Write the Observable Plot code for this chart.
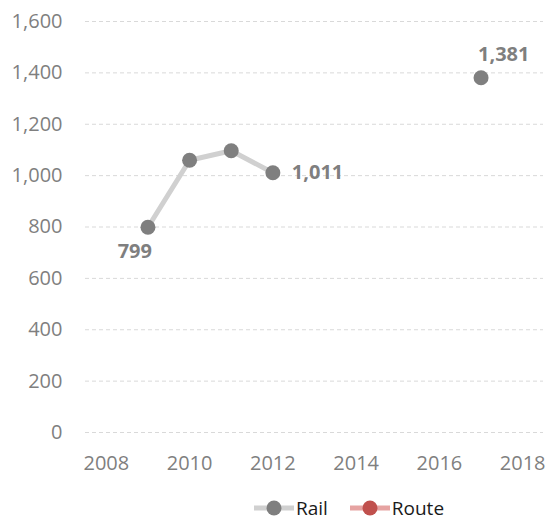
<!DOCTYPE html>
<html>
<head>
<meta charset="utf-8">
<script src="https://cdn.jsdelivr.net/npm/d3@7"></script>
<script src="https://cdn.jsdelivr.net/npm/@observablehq/plot@0.6"></script>
<style>
  html, body { margin: 0; padding: 0; background: #fff; overflow: hidden; }
  #chart svg { display: block; }
  #legend { display: flex; justify-content: center; align-items: center; gap: 22px; height: 24px;
    font-family: "Open Sans", sans-serif; font-size: 19px; color: #1a1a1a; padding-left: 150px; }
  .item { display: flex; align-items: center; gap: 2px; }
</style>
</head>
<body>
<div id="chart"></div>
<div id="legend"></div>
<script>
const years = [2009, 2010, 2011, 2012, 2013, 2014, 2015, 2016, 2017];
const railValues = [799, 1060, 1097, 1011, null, null, null, null, 1381];
const routeValues = [null, null, null, null, null, null, null, null, null];
const seriesNames = ["Rail", "Route"];
const xTicks = [2008, 2010, 2012, 2014, 2016, 2018];
const yTicks = [0, 200, 400, 600, 800, 1000, 1200, 1400, 1600];

const rail = years.map((year, i) => ({year, value: railValues[i]}));
const route = years.map((year, i) => ({year, value: routeValues[i]}));
const railDefined = rail.filter(d => d.value != null);
const routeDefined = route.filter(d => d.value != null);
const fmt = d3.format(",");
const gray = "#7f7f7f";

const chart = Plot.plot({
  width: 548,
  height: 496,
  marginLeft: 85,
  marginRight: 5,
  marginTop: 21,
  marginBottom: 64,
  style: {fontFamily: "Open Sans, sans-serif", fontSize: "20px", color: gray, background: "#fff"},
  x: {domain: [2007.5, 2018.5], ticks: xTicks, tickFormat: d => String(d)},
  y: {domain: [0, 1600], ticks: yTicks, tickFormat: fmt},
  marks: [
    Plot.gridY(yTicks, {stroke: "#d9d9d9", strokeOpacity: 1, strokeDasharray: "4,3", strokeWidth: 1}),
    Plot.axisX({ticks: xTicks, tickSize: 0, tickPadding: 23, tickFormat: d => String(d), label: null}),
    Plot.axisY({ticks: yTicks, tickSize: 0, tickPadding: 23, tickFormat: fmt, label: null}),
    Plot.line(rail, {x: "year", y: "value", stroke: "#d0d0d0", strokeWidth: 5}),
    Plot.line(route, {x: "year", y: "value", stroke: "#e6a3a2", strokeWidth: 5}),
    Plot.dot(railDefined, {x: "year", y: "value", r: 7.5, fill: gray, stroke: null}),
    Plot.dot(routeDefined, {x: "year", y: "value", r: 7.5, fill: "#c0504d", stroke: null}),
    Plot.text(railDefined.filter(d => d.year === 2009), {x: "year", y: "value", text: d => fmt(d.value),
      textAnchor: "end", dx: 4, dy: 24, fontWeight: "bold", fill: gray, fontSize: 20}),
    Plot.text(railDefined.filter(d => d.year === 2012), {x: "year", y: "value", text: d => fmt(d.value),
      textAnchor: "start", dx: 19, dy: 0, fontWeight: "bold", fill: gray, fontSize: 20}),
    Plot.text(railDefined.filter(d => d.year === 2017), {x: "year", y: "value", text: d => fmt(d.value),
      textAnchor: "start", dx: -3, dy: -23, fontWeight: "bold", fill: gray, fontSize: 20})
  ]
});
document.getElementById("chart").appendChild(chart);

const legendColors = {Rail: {line: "#d0d0d0", dot: gray}, Route: {line: "#e6a3a2", dot: "#c0504d"}};
const legend = document.getElementById("legend");
seriesNames.forEach(name => {
  const c = legendColors[name];
  const item = document.createElement("div");
  item.className = "item";
  item.innerHTML = `<svg width="40" height="16"><line x1="0" y1="8" x2="40" y2="8" stroke="${c.line}" stroke-width="5"/><circle cx="20" cy="8" r="7.5" fill="${c.dot}"/></svg><span>${name}</span>`;
  legend.appendChild(item);
});
</script>
</body>
</html>
